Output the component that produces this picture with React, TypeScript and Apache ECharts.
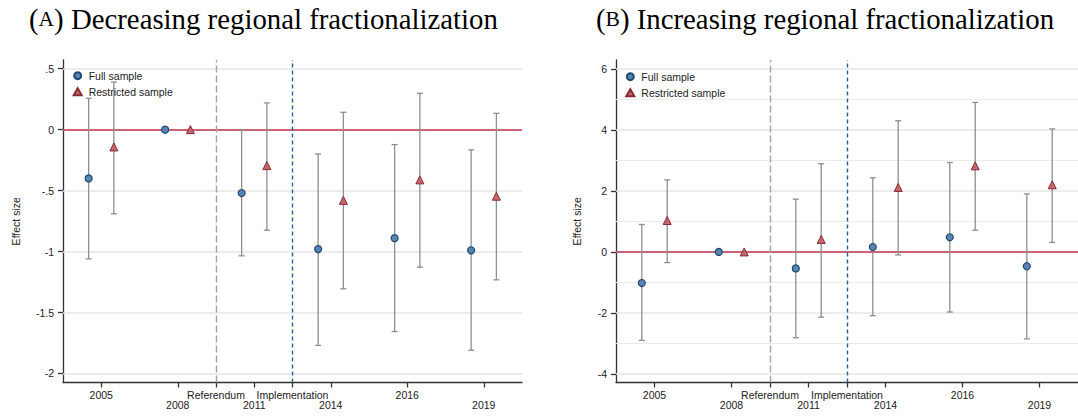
import React, { useEffect, useRef } from "react";
import * as echarts from "echarts";

// ---- data ----
const yearPos = [0, 2, 4, 6, 8, 10]; // positions of 2005, 2008, 2011, 2014, 2016, 2019
const tickPos = [0, 2, 3, 4, 5, 6, 8, 10];
const tickLabels = ["2005", "2008", "Referendum", "2011", "Implementation", "2014", "2016", "2019"];
const offsetFull = -0.33;
const offsetRestr = 0.33;

// Panel A: decreasing regional fractionalization
const fullA = [-0.4, 0, -0.52, -0.98, -0.89, -0.99];
const fullALo = [-1.06, null, -1.035, -1.77, -1.656, -1.81];
const fullAHi = [0.257, null, 0.0, -0.2, -0.123, -0.166];
const restrA = [-0.142, 0, -0.295, -0.58, -0.412, -0.546];
const restrALo = [-0.69, null, -0.825, -1.306, -1.128, -1.232];
const restrAHi = [0.39, null, 0.219, 0.142, 0.298, 0.134];
const yTicksA = [-2, -1.5, -1, -0.5, 0, 0.5];

// Panel B: increasing regional fractionalization
const fullB = [-1.02, 0, -0.54, 0.16, 0.48, -0.47];
const fullBLo = [-2.9, null, -2.81, -2.09, -1.97, -2.85];
const fullBHi = [0.9, null, 1.73, 2.43, 2.93, 1.9];
const restrB = [1.03, 0, 0.41, 2.11, 2.82, 2.2];
const restrBLo = [-0.35, null, -2.14, -0.1, 0.71, 0.31];
const restrBHi = [2.36, null, 2.89, 4.3, 4.9, 4.03];
const yTicksB = [-4, -2, 0, 2, 4, 6];
const yMinorB = [-3, -1, 1, 3, 5];

const refPos = 3;
const implPos = 5;

const SANS = "'Liberation Sans', Arial, sans-serif";
const SERIF = "'Liberation Serif', 'Times New Roman', serif";
const FS = 10.5;

const fmtA = (v: number) => {
  if (v === 0) return "0";
  const s = String(Math.abs(v)).replace(/^0\./, ".");
  return (v < 0 ? "-" : "") + s;
};

const points = (vals: number[], off: number) => vals.map((v, i) => [yearPos[i] + off, v]);
const cis = (lo: (number | null)[], hi: (number | null)[], off: number) =>
  lo
    .map((l, i) => (l === null || hi[i] === null ? null : [yearPos[i] + off, l, hi[i]]))
    .filter((d) => d !== null);

const ciRender = (params: any, api: any) => {
  const x = api.value(0);
  const lo = api.coord([x, api.value(1)]);
  const hi = api.coord([x, api.value(2)]);
  const w = 3;
  const style = { stroke: "#8e8e8e", lineWidth: 1.3 };
  return {
    type: "group",
    children: [
      { type: "line", shape: { x1: lo[0], y1: lo[1], x2: hi[0], y2: hi[1] }, style },
      { type: "line", shape: { x1: lo[0] - w, y1: lo[1], x2: lo[0] + w, y2: lo[1] }, style },
      { type: "line", shape: { x1: hi[0] - w, y1: hi[1], x2: hi[0] + w, y2: hi[1] }, style },
    ],
  };
};

function buildPanel(
  idx: number,
  full: number[],
  fullLo: (number | null)[],
  fullHi: (number | null)[],
  restr: number[],
  restrLo: (number | null)[],
  restrHi: (number | null)[],
  majors: number[],
  minors: number[]
) {
  const grid = [
    ...majors.map((v) => ({ yAxis: v, lineStyle: { color: "#e6e6e6", width: 1.6, type: "solid" } })),
    ...minors.map((v) => ({ yAxis: v, lineStyle: { color: "#ebebeb", width: 1, type: "solid" } })),
  ];
  return [
    {
      type: "line",
      name: "grid" + idx,
      xAxisIndex: idx,
      yAxisIndex: idx,
      data: [],
      z: 1,
      silent: true,
      markLine: { z: 1, silent: true, symbol: "none", label: { show: false }, data: grid, animation: false },
    },
    {
      type: "line",
      name: "ref" + idx,
      xAxisIndex: idx,
      yAxisIndex: idx,
      data: [],
      z: 2,
      silent: true,
      markLine: {
        z: 2,
        silent: true,
        symbol: "none",
        label: { show: false },
        animation: false,
        data: [
          { yAxis: 0, lineStyle: { color: "#c2344f", width: 1.7, type: "solid" } },
          { xAxis: refPos, lineStyle: { color: "#a3a3a3", width: 1.4, type: [7, 3] } },
          { xAxis: implPos, lineStyle: { color: "#2a5f96", width: 1.4, type: [4, 3] } },
        ],
      },
    },
    {
      type: "custom",
      name: "ciFull" + idx,
      xAxisIndex: idx,
      yAxisIndex: idx,
      z: 3,
      renderItem: ciRender,
      encode: { x: 0, y: [1, 2] },
      data: cis(fullLo, fullHi, offsetFull),
      silent: true,
    },
    {
      type: "custom",
      name: "ciRestr" + idx,
      xAxisIndex: idx,
      yAxisIndex: idx,
      z: 3,
      renderItem: ciRender,
      encode: { x: 0, y: [1, 2] },
      data: cis(restrLo, restrHi, offsetRestr),
      silent: true,
    },
    {
      type: "scatter",
      name: "Full sample",
      xAxisIndex: idx,
      yAxisIndex: idx,
      z: 6,
      symbol: "circle",
      symbolSize: 7,
      itemStyle: { color: "#5b85b1", borderColor: "#1d4a73", borderWidth: 1.2, opacity: 1 },
      data: points(full, offsetFull),
    },
    {
      type: "scatter",
      name: "Restricted sample",
      xAxisIndex: idx,
      yAxisIndex: idx,
      z: 6,
      symbol: "triangle",
      symbolSize: 8,
      itemStyle: { color: "#c4676d", borderColor: "#8a2a33", borderWidth: 1, opacity: 1 },
      data: points(restr, offsetRestr),
    },
  ];
}

const xAxisCommon = {
  type: "value",
  min: -1,
  max: 11,
  axisLine: { show: true, onZero: false, lineStyle: { color: "#333", width: 1.3 } },
  axisTick: { show: true, length: 5, lineStyle: { color: "#333", width: 1.3 }, customValues: tickPos },
  axisLabel: {
    customValues: tickPos,
    fontFamily: SANS,
    fontSize: FS,
    color: "#222",
    lineHeight: 10.5,
    margin: 7,
    formatter: (v: number) => {
      const i = tickPos.indexOf(v);
      if (i < 0) return "";
      return i % 2 === 1 ? "\n" + tickLabels[i] : tickLabels[i];
    },
  },
  splitLine: { show: false },
};

const yAxisCommon = {
  type: "value",
  name: "Effect size",
  nameLocation: "middle",
  nameTextStyle: { fontFamily: SANS, fontSize: FS, color: "#222" },
  axisLine: { show: true, onZero: false, lineStyle: { color: "#333", width: 1.3 } },
  splitLine: { show: false },
};

export default function App() {
  const ref = useRef<HTMLDivElement>(null);
  useEffect(() => {
    if (!ref.current) return;
    const chart = echarts.init(ref.current, null, { renderer: "svg" });
    const titleRich = {
      a: { fontFamily: SERIF, fontSize: 28.8, color: "#111" },
      b: { fontFamily: SERIF, fontSize: 21.5, color: "#111" },
    };
    chart.setOption({
      animation: false,
      backgroundColor: "#ffffff",
      grid: [
        { left: 63, top: 60, width: 459, height: 322.5, containLabel: false },
        { left: 616, top: 60, width: 469, height: 322.5, containLabel: false },
      ],
      xAxis: [
        { ...xAxisCommon, gridIndex: 0 },
        { ...xAxisCommon, gridIndex: 1 },
      ],
      yAxis: [
        {
          ...yAxisCommon,
          gridIndex: 0,
          min: -2.074,
          max: 0.571,
          nameGap: 42,
          axisTick: { show: true, length: 5, lineStyle: { color: "#333", width: 1.3 }, customValues: yTicksA },
          axisLabel: {
            customValues: yTicksA,
            fontFamily: SANS,
            fontSize: FS,
            color: "#222",
            margin: 9,
            formatter: (v: number) => fmtA(v),
          },
        },
        {
          ...yAxisCommon,
          gridIndex: 1,
          min: -4.28,
          max: 6.29,
          nameGap: 34,
          axisTick: { show: true, length: 5, lineStyle: { color: "#333", width: 1.3 }, customValues: yTicksB },
          axisLabel: {
            customValues: yTicksB,
            fontFamily: SANS,
            fontSize: FS,
            color: "#222",
            margin: 9,
            formatter: (v: number) => String(v),
          },
        },
      ],
      legend: [
        {
          orient: "vertical",
          left: 72.7,
          top: 69.7,
          padding: 0,
          itemGap: 4,
          itemWidth: 8,
          itemHeight: 7,
          data: ["Full sample", "Restricted sample"],
          textStyle: { fontFamily: SANS, fontSize: FS, color: "#222", lineHeight: 12, padding: [0, 0, 0, 2] },
          selectedMode: false,
        },
        {
          orient: "vertical",
          left: 625.3,
          top: 70.7,
          padding: 0,
          itemGap: 4,
          itemWidth: 8,
          itemHeight: 7,
          data: ["Full sample", "Restricted sample"],
          textStyle: { fontFamily: SANS, fontSize: FS, color: "#222", lineHeight: 12, padding: [0, 0, 0, 2] },
          selectedMode: false,
        },
      ],
      graphic: [
        {
          type: "text",
          x: 29,
          y: 18.5,
          style: {
            text: "{a|(}{b|A}{a|) Decreasing regional fractionalization}",
            rich: titleRich,
            verticalAlign: "middle",
          },
        },
        {
          type: "text",
          x: 596,
          y: 18.5,
          style: {
            text: "{a|(}{b|B}{a|) Increasing regional fractionalization}",
            rich: titleRich,
            verticalAlign: "middle",
          },
        },
      ],
      series: [
        ...buildPanel(0, fullA, fullALo, fullAHi, restrA, restrALo, restrAHi, yTicksA, []),
        ...buildPanel(1, fullB, fullBLo, fullBHi, restrB, restrBLo, restrBHi, yTicksB, yMinorB),
      ],
    });
    return () => chart.dispose();
  }, []);
  return (
    <div
      ref={ref}
      style={{ position: "fixed", left: 0, top: 0, width: 1078, height: 418, background: "#fff" }}
    />
  );
}
